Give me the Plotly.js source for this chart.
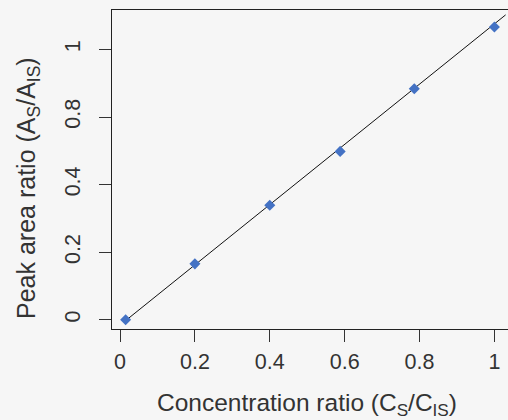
<!DOCTYPE html>
<html>
<head>
<meta charset="utf-8">
<script src="https://cdn.plot.ly/plotly-3.0.1.min.js"></script>
<style>
html,body{margin:0;padding:0;overflow:hidden;background:#f6f6f6;}
#chart{width:520px;height:420px;}
</style>
</head>
<body>
<div id="chart"></div>
<script>
// Data
const concRatio = [0.015, 0.2, 0.4, 0.588, 0.786, 1.0];
const areaRatio = [0.0, 0.207, 0.424, 0.623, 0.855, 1.083];
const fitX = [0.015, 1.03];
const fitY = [-0.003, 1.128];
const xTickVals = [0, 0.2, 0.4, 0.6, 0.8, 1];
const xTickText = ['0', '0.2', '0.4', '0.6', '0.8', '1'];
const yTickVals = [0, 0.25, 0.5, 0.75, 1];
const yTickText = ['0', '0.2', '0.4', '0.8', '1'];

const FONT = 'Liberation Sans, Arial, sans-serif';
const TXT = '#333333';

const traces = [
  {x: fitX, y: fitY, mode: 'lines', type: 'scatter',
   line: {color: '#111111', width: 1}, hoverinfo: 'skip'},
  {x: concRatio, y: areaRatio, mode: 'markers', type: 'scatter',
   marker: {symbol: 'diamond', size: 8.5, color: '#4472c4'}}
];

const axisCommon = {
  showgrid: false, zeroline: false, showline: true, mirror: true,
  linecolor: '#222', linewidth: 1,
  ticks: 'outside', ticklen: 12, tickwidth: 1, tickcolor: '#333',
  tickfont: {family: FONT, size: 21.5, color: TXT},
  tickmode: 'array'
};

const layout = {
  width: 520, height: 420,
  margin: {l: 112, r: 11, t: 10, b: 91},
  paper_bgcolor: '#f6f6f6', plot_bgcolor: '#f6f6f6',
  showlegend: false,
  xaxis: Object.assign({}, axisCommon, {
    range: [-0.0214, 1.039], tickvals: xTickVals, ticktext: xTickText,
    ticklabelstandoff: 1
  }),
  yaxis: Object.assign({}, axisCommon, {
    range: [-0.034, 1.146], tickvals: yTickVals, ticktext: yTickText,
    tickangle: -90, ticklabelstandoff: 10
  }),
  annotations: [
    {text: 'Concentration ratio (C<sub>S</sub>/C<sub>IS</sub>)', xref: 'paper', yref: 'paper',
     x: 0.491, y: -0.236, xanchor: 'center', yanchor: 'middle', showarrow: false,
     font: {family: FONT, size: 24.5, color: TXT}},
    {text: 'Peak area ratio (A<sub>S</sub>/A<sub>IS</sub>)', xref: 'paper', yref: 'paper',
     x: -0.2116, y: 0.442, xanchor: 'center', yanchor: 'middle', showarrow: false,
     textangle: -90, font: {family: FONT, size: 25, color: TXT}}
  ]
};

Plotly.newPlot('chart', traces, layout, {staticPlot: true, displayModeBar: false});
</script>
</body>
</html>
